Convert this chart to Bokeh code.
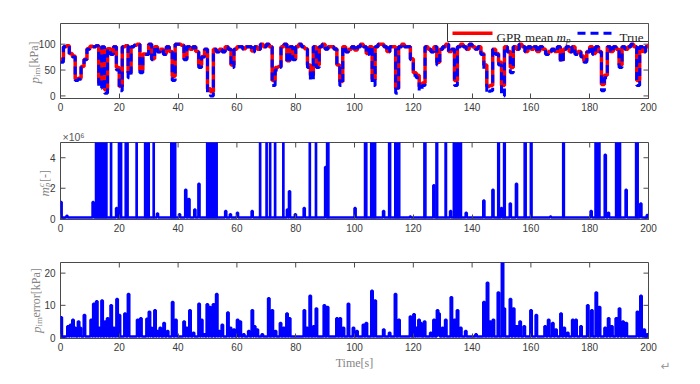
import numpy as np
from bokeh.plotting import figure
from bokeh.layouts import column, row
from bokeh.models import FixedTicker, Range1d
from bokeh.embed import file_html
from bokeh.resources import INLINE
from bokeh.core.properties import value

# ---------------- data ----------------
t_sec = list(range(0, 201))
p_true = [65, 95, 97, 80, 75, 30, 32, 55, 70, 90,
          95, 95, 97, 15, 95, 5, 90, 80, 95, 50,
          10, 95, 97, 35, 95, 98, 100, 45, 80, 80,
          100, 70, 95, 85, 90, 80, 95, 85, 30, 100,
          100, 98, 70, 95, 90, 95, 85, 55, 75, 90,
          5, 0, 90, 85, 90, 85, 95, 90, 55, 90,
          95, 95, 90, 95, 95, 85, 95, 90, 100, 95,
          100, 95, 20, 50, 55, 95, 100, 65, 95, 70,
          95, 100, 95, 90, 55, 30, 95, 55, 95, 100,
          90, 95, 95, 90, 55, 20, 95, 85, 90, 95,
          88, 95, 100, 95, 80, 95, 20, 95, 100, 100,
          95, 85, 95, 95, 5, 95, 100, 95, 95, 70,
          40, 35, 10, 20, 95, 90, 85, 95, 60, 90,
          95, 100, 85, 90, 20, 95, 100, 95, 90, 100,
          95, 90, 95, 80, 50, 5, 10, 90, 80, 60,
          0, 95, 85, 45, 95, 90, 100, 95, 85, 95,
          90, 95, 85, 95, 90, 80, 85, 90, 85, 95,
          65, 90, 95, 85, 95, 80, 85, 75, 65, 85,
          95, 80, 95, 85, 10, 35, 95, 85, 95, 90,
          55, 95, 90, 95, 100, 95, 20, 95, 85, 95,
          100]
p_gpr = [71, 95, 97, 82, 77, 33, 34, 57, 71, 91,
         96, 95, 97, 25, 94, 12, 91, 82, 95, 55,
         18, 95, 97, 45, 95, 98, 100, 50, 81, 81,
         100, 72, 95, 86, 90, 82, 95, 86, 38, 100,
         100, 98, 73, 95, 90, 95, 86, 60, 76, 90,
         14, 8, 90, 86, 90, 86, 95, 90, 60, 90,
         95, 95, 91, 95, 95, 87, 95, 90, 100, 95,
         100, 95, 30, 55, 57, 95, 100, 68, 95, 72,
         95, 100, 95, 91, 60, 40, 95, 60, 95, 100,
         91, 95, 95, 91, 60, 28, 95, 86, 90, 95,
         89, 95, 100, 95, 82, 95, 32, 95, 100, 100,
         95, 86, 95, 95, 15, 95, 100, 95, 95, 72,
         45, 40, 18, 25, 95, 90, 86, 95, 65, 90,
         95, 100, 86, 90, 30, 95, 100, 95, 90, 100,
         95, 91, 95, 82, 60, 18, 20, 90, 82, 65,
         20, 95, 86, 55, 95, 90, 100, 95, 86, 95,
         90, 95, 86, 95, 90, 82, 86, 90, 86, 95,
         70, 90, 95, 86, 95, 82, 86, 77, 68, 86,
         95, 82, 95, 86, 22, 40, 95, 86, 95, 90,
         60, 95, 90, 95, 100, 95, 30, 95, 86, 95,
         100]

# m_p^c  (units of 1e6): saturated intervals and isolated spikes
mp_sat_start = [11.9, 17.0, 19.7, 20.4, 22.0, 25.7, 28.6, 31.5, 37.5, 49.7,
                67.7, 69.9, 71.1, 72.8, 75.6, 84.6, 86.7, 90.5, 103.4, 105.5,
                111.6, 113.7, 123.6, 127.7, 130.8, 133.6, 148.7, 150.7, 157.7, 159.8,
                170.8, 181.8, 188.8, 195.6]
mp_sat_end = [15.8, 17.4, 20.1, 20.8, 23.0, 26.1, 30.2, 31.9, 39.2, 53.3,
              68.1, 70.3, 71.5, 73.2, 76.0, 85.0, 87.1, 91.3, 104.2, 107.2,
              112.3, 115.4, 124.3, 128.3, 131.3, 136.4, 149.3, 151.3, 158.4, 160.4,
              171.4, 183.5, 190.5, 196.5]
mp_spike_t = [0.0, 2.0, 10.9, 18.9, 32.8, 40.3, 42.4, 43.5, 45.5, 46.9,
              56.0, 57.6, 60.0, 65.0, 77.0, 77.7, 79.7, 82.7, 90.0, 100.0,
              109.7, 118.8, 126.8, 132.5, 137.8, 143.8, 146.9, 149.8, 152.8, 154.9,
              166.5, 180.3, 185.1, 186.2, 192.2, 197.2, 199.4]
mp_spike_v = [1.1, 0.2, 1.1, 0.7, 0.35, 0.3, 1.9, 1.3, 0.6, 2.3,
              0.5, 0.3, 0.4, 0.5, 0.6, 1.8, 0.3, 0.7, 3.4, 0.7,
              0.5, 0.15, 2.2, 0.5, 0.4, 1.2, 1.9, 0.7, 1.0, 2.3,
              0.15, 0.5, 4.2, 0.4, 1.9, 1.0, 0.25]
mp_base = 0.08
mp_top = 9.0

# p_im error [kPa]
err_t = [0.0, 2.3, 3.2, 4.0, 4.7, 5.9, 6.5, 7.9, 10.2, 11.1, 12.1, 13.0, 13.9, 15.0, 15.8,
         17.0, 17.9, 19.0, 19.8, 21.7, 22.9, 26.0, 27.1, 29.2, 30.0, 30.7, 31.9, 32.8, 33.7,
         35.0, 36.2, 37.9, 39.0, 41.8, 42.7, 43.8, 45.0, 46.9, 47.8, 48.6, 49.7, 50.6, 51.8,
         52.9, 53.7, 54.8, 56.7, 57.6, 58.8, 60.0, 60.9, 62.1, 63.8, 65.0, 65.8, 66.7, 68.4,
         70.6, 71.8, 72.9, 74.6, 75.7, 76.8, 77.7, 82.7, 83.6, 84.7, 85.9, 86.8, 89.5, 90.6,
         93.8, 94.9, 96.0, 97.7, 99.4, 100.6, 102.8, 103.8, 105.7, 106.8, 109.7, 111.7, 113.7,
         114.9, 118.8, 120.0, 120.9, 121.7, 122.3, 123.6, 125.7, 126.8, 128.0, 128.5, 129.7,
         130.8, 132.7, 133.8, 134.8, 135.9, 137.6, 141.1, 143.8, 145.0, 145.9, 147.0, 148.7,
         150.1, 150.7, 152.8, 153.9, 155.0, 156.1, 157.5, 159.8, 161.6, 164.6, 165.8, 167.2,
         168.3, 170.0, 171.1, 172.3, 174.0, 175.1, 176.8, 179.1, 180.5, 182.0, 183.1, 185.0,
         186.2, 187.3, 188.8, 189.9, 191.1, 192.2, 196.0, 197.2, 198.3, 199.4]
err_v = [6.3, 3.5, 4.0, 5.5, 3.0, 5.0, 3.0, 7.0, 5.5, 10.5, 11.3, 3.0, 11.5, 5.0, 6.0,
         10.0, 3.0, 12.0, 7.0, 7.5, 13.5, 5.5, 6.0, 5.8, 8.0, 3.0, 8.5, 2.0, 3.0,
         4.5, 2.0, 11.0, 5.5, 5.0, 3.0, 8.5, 1.5, 10.5, 5.5, 1.0, 10.3, 9.5, 10.3,
         13.5, 2.0, 4.0, 7.8, 3.0, 2.5, 5.5, 5.0, 1.0, 2.0, 8.5, 3.5, 2.5, 1.0,
         12.2, 8.5, 2.0, 4.5, 3.0, 7.5, 6.0, 8.5, 3.0, 13.0, 3.5, 9.0, 10.0, 9.5,
         6.0, 6.0, 3.0, 10.5, 3.0, 2.0, 4.0, 4.5, 14.5, 11.5, 2.5, 1.5, 13.5,
         5.5, 6.5, 7.2, 3.0, 5.5, 4.5, 5.0, 1.5, 5.5, 8.5, 7.5, 3.0,
         5.5, 12.5, 5.5, 8.5, 3.0, 2.0, 1.0, 11.0, 17.0, 5.0, 5.5, 14.0,
         23.3, 9.0, 12.0, 9.0, 3.5, 5.0, 3.5, 8.5, 7.0, 3.5, 5.5, 4.5,
         2.5, 7.5, 3.0, 1.5, 5.5, 5.5, 3.5, 10.0, 8.5, 14.0, 9.5, 3.0,
         6.0, 3.5, 6.0, 9.0, 5.0, 4.5, 8.0, 13.0, 2.5, 1.0]
err_base = 0.3

x_ticks = [0, 20, 40, 60, 80, 100, 120, 140, 160, 180, 200]
p_ticks = [0, 50, 100]
mp_ticks = [0, 2, 4]
err_ticks = [0, 10, 20]

# ---------------- style / geometry ----------------
RED = "#ff0000"
BLUE = "#0000ff"
AX = "#4a4a4a"
TICKC = "#3a3a3a"
LBL = "#858585"
SANS = "Liberation Sans"
SERIF = "Liberation Serif"
ROT = np.pi / 2
TICK_PX = 5

LW = 56                     # width of the left strip (y tick labels + y titles)
FL, FW = 60.0, 588.0        # frame left / width in page pixels
PAGE_H = 376
# panel: (frame top px, frame height px, y0, y1)
P1 = (23.0, 75.0, -5.0, 140.0)
P2 = (142.0, 77.0, -0.05, 5.0)
P3 = (262.0, 76.0, -0.3, 23.3)


def dx(px):
    return (px - FL) * 200.0 / FW


def dy(P, py):
    T, H, y0, y1 = P
    return y1 - (py - T) * (y1 - y0) / H


def page_y(P, v):
    T, H, y0, y1 = P
    return T + (y1 - v) * H / (y1 - y0)


def style_xaxis(ax):
    ax.ticker = FixedTicker(ticks=x_ticks)
    ax.axis_line_color = AX
    ax.axis_line_width = 1
    ax.major_tick_line_color = AX
    ax.major_tick_in = TICK_PX
    ax.major_tick_out = 0
    ax.minor_tick_line_color = None
    ax.major_label_text_font = SANS
    ax.major_label_text_color = TICKC
    ax.major_label_text_font_size = "10px"
    ax.major_label_standoff = 4


def make_fig(P, top, bottom, yticks):
    T, H, y0, y1 = P
    fig = figure(width=4 + 588 + 12, height=top + int(H) + bottom, x_range=Range1d(0, 200),
                 y_range=Range1d(y0, y1), output_backend="svg", toolbar_location=None,
                 y_axis_location=None,
                 min_border_left=4, min_border_right=12,
                 min_border_top=top, min_border_bottom=bottom)
    fig.grid.visible = False
    fig.outline_line_color = AX
    fig.outline_line_width = 1
    style_xaxis(fig.xaxis[0])
    # inward ticks on the top, left and right edges of the box
    ty = TICK_PX * (y1 - y0) / H
    fig.segment(x0=x_ticks, x1=x_ticks, y0=[y1] * len(x_ticks), y1=[y1 - ty] * len(x_ticks),
                line_color=AX, line_width=1)
    tx = TICK_PX * 200.0 / FW
    n = len(yticks)
    fig.segment(x0=[0] * n, x1=[tx] * n, y0=yticks, y1=yticks, line_color=AX, line_width=1)
    fig.segment(x0=[200] * n, x1=[200 - tx] * n, y0=yticks, y1=yticks,
                line_color=AX, line_width=1)
    return fig


def ftext(f, x, y, text, size, style="normal", angle=0.0, font=SERIF, color=LBL,
          baseline="alphabetic", align="left"):
    f.text(x=[x], y=[y], text=[text], angle=angle, text_font=value(font),
           text_font_size=value(f"{size}px"), text_font_style=value(style),
           text_color=color, text_baseline=value(baseline), text_align=value(align))


def strip(w):
    f = figure(width=w, height=PAGE_H, x_range=Range1d(0, w), y_range=Range1d(0, PAGE_H),
               output_backend="svg", toolbar_location=None, min_border=0,
               x_axis_type=None, y_axis_type=None)
    f.outline_line_color = None
    f.grid.visible = False
    return f


# ---------------- panel 1 ----------------
p1 = make_fig(P1, 23, 22, p_ticks)
p1.step(t_sec, p_gpr, mode="after", line_color=RED, line_width=3.5)
p1.step(t_sec, p_true, mode="after", line_color=BLUE, line_width=3, line_dash="8 5")

# legend (manual, for the math-styled label)
p1.quad(left=[dx(447)], right=[200], bottom=[dy(P1, 41)], top=[140],
        fill_color="white", line_color="#333333", line_width=1)
p1.line([dx(452), dx(492)], [dy(P1, 32.7)] * 2, line_color=RED, line_width=3.5)
p1.line([dx(577), dx(616)], [dy(P1, 32.7)] * 2, line_color=BLUE, line_width=3, line_dash="8 5")
ftext(p1, dx(496), dy(P1, 37), "GPR mean", 13, color="#262626")
ftext(p1, dx(556), dy(P1, 37), "m", 13, style="italic", color="#262626")
ftext(p1, dx(565.5), dy(P1, 39.5), "p", 9, style="italic", color="#262626")
ftext(p1, dx(619), dy(P1, 37), "True", 13, color="#262626")

# ---------------- panel 2 ----------------
p2 = make_fig(P2, 22, 21, mp_ticks)
mx, my = [0.0], [mp_base]
for t, v in sorted(zip(mp_spike_t, mp_spike_v)):
    mx += [t, t, t + 0.4, t + 0.4]
    my += [mp_base, v, v, mp_base]
mx.append(200.0)
my.append(mp_base)
p2.line(mx, my, line_color=BLUE, line_width=2.5)
p2.quad(left=mp_sat_start, right=mp_sat_end, bottom=mp_base, top=mp_top,
        fill_color=BLUE, line_color=BLUE, line_width=1.5)
p2.title.text = "\u00d710\u2076"
p2.title.text_font = SANS
p2.title.text_font_size = "10.5px"
p2.title.text_font_style = "normal"
p2.title.text_color = "#555555"
p2.title.align = "left"
p2.title.offset = 2
p2.title.standoff = 0

# ---------------- panel 3 ----------------
p3 = make_fig(P3, 22, 38, err_ticks)
ex, ey = [0.0], [err_base]
for t, v in sorted(zip(err_t, err_v)):
    ex += [t, t, t + 0.5, t + 0.5]
    ey += [err_base, v, v, err_base]
ex.append(200.0)
ey.append(err_base)
p3.line(ex, ey, line_color=BLUE, line_width=2.5)
p3.xaxis.axis_label = "Time[s]"
p3.xaxis.axis_label_text_font = SERIF
p3.xaxis.axis_label_text_font_size = "12px"
p3.xaxis.axis_label_text_font_style = "normal"
p3.xaxis.axis_label_text_color = LBL
p3.xaxis.axis_label_standoff = 2

# ---------------- left strip: y tick labels and y titles (page pixels) ----------------
L = strip(LW)
for P, ticks in ((P1, p_ticks), (P2, mp_ticks), (P3, err_ticks)):
    L.text(x=[LW - 1] * len(ticks), y=[PAGE_H - page_y(P, v) for v in ticks],
           text=[str(v) for v in ticks], text_font=value(SANS), text_font_size=value("10px"),
           text_color=TICKC, text_align=value("right"), text_baseline=value("middle"))

# p_im[kPa]
ftext(L, 33.5, PAGE_H - 83.0, "p", 13, style="italic", angle=ROT)
ftext(L, 36, PAGE_H - 76.5, "im", 9, angle=ROT)
ftext(L, 33.5, PAGE_H - 67.0, "[kPa]", 12, angle=ROT)
# m_p^c[-]
ftext(L, 44, PAGE_H - 196.0, "m", 13, style="italic", angle=ROT)
ftext(L, 40, PAGE_H - 186.5, "c", 8.5, style="italic", angle=ROT)
ftext(L, 46.5, PAGE_H - 186.5, "p", 8.5, style="italic", angle=ROT)
ftext(L, 44, PAGE_H - 181.5, "[-]", 12, angle=ROT)
# p_im error[kPa]
ftext(L, 35.5, PAGE_H - 332.5, "p", 13, style="italic", angle=ROT)
ftext(L, 38, PAGE_H - 326.0, "im", 9, angle=ROT)
ftext(L, 35.5, PAGE_H - 317.0, "error[kPa]", 12, angle=ROT)

# ---------------- right strip with the paragraph mark ----------------
R = strip(30)
ftext(R, 5, PAGE_H - 365.0, "\u21b5", 12, font="DejaVu Sans", color="#9a9a9a",
      baseline="middle", align="center")

layout = row(L, column(p1, p2, p3), R)
open("out.html", "w").write(file_html(layout, INLINE))
